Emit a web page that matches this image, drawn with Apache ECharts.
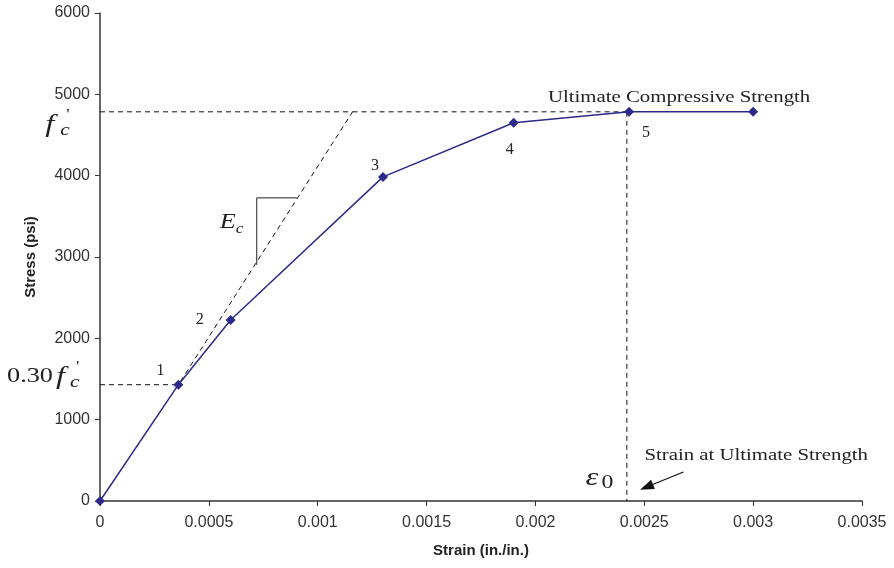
<!DOCTYPE html>
<html>
<head>
<meta charset="utf-8" />
<title>Stress-Strain</title>
<script src="https://cdn.jsdelivr.net/npm/echarts@6/dist/echarts.min.js"></script>
</head>
<body style="margin:0;background:#fff;">
<div id="chart" style="width:894px;height:568px;"></div>
<script>
// curve points
var strain = [0, 0.00036, 0.0006, 0.0013, 0.0019, 0.00243, 0.003];
var stress = [0, 1430, 2225, 3985, 4650, 4785, 4785];
var pointNames = ['', '1', '2', '3', '4', '5', ''];
var nameOffsets = [[0, 0], [-18, -14], [-31, 0], [-8, -11], [-4, 27], [17, 21], [0, 0]];

// reference lines
var fc = 4785;          // f'c
var fc30 = 1430;        // 0.30 f'c
var eps0 = 0.00242;     // strain at ultimate strength
var tangentStart = [0.00036, 1430];
var tangentEnd = [0.00116, 4785];
var slopeMark = [[0.000904, 3727], [0.00072, 3727], [0.00072, 2903]];
var arrowFrom = [0.00268, 357];
var arrowTo = [0.00251, 172];

// text notes, anchored in data coords
var notes = [
  { at: [0.00266, 4955], kind: 'caption', text: 'Ultimate Compressive Strength' },
  { at: [0.003014, 553], kind: 'caption', text: 'Strain at Ultimate Strength' },
  { at: [0.00055, 3420], kind: 'Ec' },
  { at: [-0.000252, 4625], kind: 'fc' },
  { at: [0.00223, 283], kind: 'eps' },
  { at: [-0.000427, 1525], kind: 'fc30' }
];

var dark = '#2c2a8a';
var dashed = { color: '#111', width: 1, type: [5, 4] };

var chart = echarts.init(document.getElementById('chart'));

var curve = strain.map(function (s, i) {
  return {
    value: [s, stress[i]],
    label: {
      show: pointNames[i] !== '',
      formatter: pointNames[i],
      position: 'inside',
      offset: nameOffsets[i],
      fontFamily: 'Liberation Serif',
      fontSize: 16,
      color: '#222'
    }
  };
});

var option = {
  animation: false,
  grid: { left: 100, right: 32, top: 13, bottom: 67 },
  xAxis: {
    type: 'value',
    min: 0, max: 0.0035, interval: 0.0005,
    name: 'Strain (in./in.)',
    nameLocation: 'middle',
    nameGap: 42,
    nameTextStyle: { fontFamily: 'Liberation Sans', fontWeight: 'bold', fontSize: 15, color: '#222' },
    axisLine: { lineStyle: { color: '#333', width: 1.5 } },
    axisTick: { inside: false, length: 5, lineStyle: { color: '#333' } },
    axisLabel: { margin: 14, fontFamily: 'Liberation Sans', fontSize: 16, color: '#333' },
    splitLine: { show: false }
  },
  yAxis: {
    type: 'value',
    min: 0, max: 6000, interval: 1000,
    name: 'Stress (psi)',
    nameLocation: 'middle',
    nameGap: 62,
    nameTextStyle: { fontFamily: 'Liberation Sans', fontWeight: 'bold', fontSize: 15, color: '#222' },
    axisLine: { show: true, lineStyle: { color: '#333', width: 1.5 } },
    axisTick: { show: true, length: 5, lineStyle: { color: '#333' } },
    axisLabel: {
      margin: 10, fontFamily: 'Liberation Sans', fontSize: 16, color: '#333',
      formatter: function (v) { return String(v); }
    },
    splitLine: { show: false }
  },
  series: [
    {
      type: 'line',
      data: [[0, fc], [tangentEnd[0], fc], tangentEnd, tangentStart],
      symbol: 'none',
      lineStyle: dashed,
      silent: true,
      z: 1
    },
    {
      type: 'line',
      data: [[0, fc30], tangentStart],
      symbol: 'none',
      lineStyle: dashed,
      silent: true,
      z: 1
    },
    {
      type: 'line',
      data: [[tangentEnd[0], fc], [strain[5], fc]],
      symbol: 'none',
      lineStyle: dashed,
      silent: true,
      z: 1
    },
    {
      type: 'line',
      data: [[eps0, fc], [eps0, 0]],
      symbol: 'none',
      lineStyle: dashed,
      silent: true,
      z: 1
    },
    {
      type: 'line',
      data: slopeMark,
      symbol: 'none',
      lineStyle: { color: '#222', width: 1 },
      silent: true,
      z: 1
    },
    {
      type: 'line',
      data: curve,
      symbol: 'diamond',
      symbolSize: 10,
      itemStyle: { color: dark },
      lineStyle: { color: dark, width: 1.5 },
      z: 3,
      markLine: {
        silent: true,
        symbol: ['none', 'triangle'],
        symbolSize: [10, 14],
        label: { show: false },
        lineStyle: { color: '#111', width: 1.2, type: 'solid' },
        data: [[{ coord: arrowFrom }, { coord: arrowTo }]]
      }
    }
  ]
};
chart.setOption(option);

// pieces of each symbol: text, dx, dy, font
var serif = '"Liberation Serif"';
var pieces = {
  Ec: [['E', 0, 0, 'italic 21px ' + serif], ['c', 16, 6, 'italic 14px ' + serif]],
  fc: [['f', 0, 0, 'italic 26px ' + serif], ['c', 15, 6, 'italic 17px ' + serif], ["'", 21, -10, '15px ' + serif]],
  eps: [['ε', 0, 0, 'italic 26px ' + serif], ['0', 16, 5, '19px ' + serif]],
  fc30: [['0.30', 0, 0, '21px ' + serif], ['f', 49, 0, 'italic 26px ' + serif], ['c', 63, 6, 'italic 17px ' + serif], ["'", 69, -10, '15px ' + serif]]
};

var els = [];
notes.forEach(function (n) {
  var p = chart.convertToPixel({ gridIndex: 0 }, n.at);
  if (n.kind === 'caption') {
    els.push({
      type: 'text', x: p[0], y: p[1], scaleX: 1.3,
      style: { text: n.text, font: '16px ' + serif, fill: '#222', align: 'center', verticalAlign: 'middle' }
    });
    return;
  }
  pieces[n.kind].forEach(function (pc) {
    els.push({
      type: 'text', x: p[0] + pc[1], y: p[1] + pc[2], scaleX: 1.25,
      style: { text: pc[0], font: pc[3], fill: '#222', align: 'left', verticalAlign: 'middle' }
    });
  });
});
chart.setOption({ graphic: els });
</script>
</body>
</html>
